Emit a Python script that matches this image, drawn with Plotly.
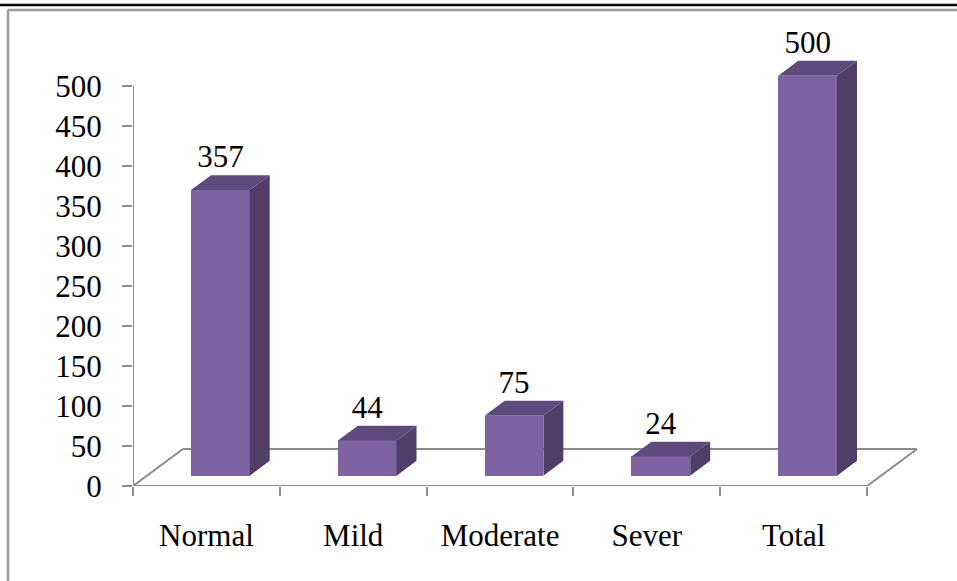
import plotly.graph_objects as go

categories = ["Normal", "Mild", "Moderate", "Sever", "Total"]
values = [357, 44, 75, 24, 500]
y_ticks = [0, 50, 100, 150, 200, 250, 300, 350, 400, 450, 500]

FRONT = "#7F62A1"
TOP = "#5E4A7D"
SIDE = "#503E69"
GRID = "#8C8C8C"
FONT = "Liberation Serif"
FS = 31

W, H = 957, 581
ML, MR, MT, MB = 133, 40, 30, 95
DX = 0.34      # floor depth in category units
DY = 46.25     # floor depth in value units
F0, F1 = 0.28, 0.68  # bar front/back depth fractions
BW = 0.40      # bar width
YMAX = (H - MT - MB) / 0.8

xs = list(range(len(categories)))

def px_x(p):
    return (p - ML) / (W - ML - MR)

def px_y(p):
    return (H - MB - p) / (H - MT - MB)

fig = go.Figure()

# front faces
fig.add_trace(go.Bar(
    x=[x + F0 * DX for x in xs], y=values, base=[F0 * DY] * len(values),
    width=BW, marker=dict(color=FRONT, line=dict(width=0)),
    hoverinfo="skip", showlegend=False))

# top and side faces
tx, ty, sx, sy = [], [], [], []
for x, v in zip(xs, values):
    l, r = x - BW / 2, x + BW / 2
    tx += [l + F0 * DX, r + F0 * DX, r + F1 * DX, l + F1 * DX, l + F0 * DX, None]
    ty += [v + F0 * DY, v + F0 * DY, v + F1 * DY, v + F1 * DY, v + F0 * DY, None]
    sx += [r + F0 * DX, r + F0 * DX, r + F1 * DX, r + F1 * DX, r + F0 * DX, None]
    sy += [F0 * DY, v + F0 * DY, v + F1 * DY, F1 * DY, F0 * DY, None]
fig.add_trace(go.Scatter(x=tx, y=ty, fill="toself", fillcolor=TOP, mode="lines",
                         line=dict(width=0, color=TOP), hoverinfo="skip", showlegend=False))
fig.add_trace(go.Scatter(x=sx, y=sy, fill="toself", fillcolor=SIDE, mode="lines",
                         line=dict(width=0, color=SIDE), hoverinfo="skip", showlegend=False))

# data labels
fig.add_trace(go.Scatter(
    x=[x + F0 * DX for x in xs], y=[v + F1 * DY for v in values],
    mode="text", text=[str(v) for v in values], textposition="top center",
    textfont=dict(family=FONT, size=FS, color="black"), cliponaxis=False,
    hoverinfo="skip", showlegend=False))

x0, x1 = -0.5, len(categories) - 0.5
shapes = [
    # floor
    dict(type="line", xref="x", yref="y", x0=x0, y0=0, x1=x1, y1=0),
    dict(type="line", xref="x", yref="y", x0=x1, y0=0, x1=x1 + DX, y1=DY),
    dict(type="line", xref="x", yref="y", x0=x0 + DX, y0=DY, x1=x1 + DX, y1=DY),
    dict(type="line", xref="x", yref="y", x0=x0, y0=0, x1=x0 + DX, y1=DY),
    # value axis line
    dict(type="line", xref="x", yref="y", x0=x0, y0=0, x1=x0, y1=y_ticks[-1]),
]
for s in shapes:
    s["line"] = dict(color=GRID, width=2)
    s["layer"] = "below"

# outer frame
shapes += [
    dict(type="line", xref="paper", yref="paper", x0=px_x(0), x1=px_x(W), y0=px_y(5), y1=px_y(5),
         line=dict(color="black", width=2.5)),
    dict(type="line", xref="paper", yref="paper", x0=px_x(8), x1=px_x(W), y0=px_y(10), y1=px_y(10),
         line=dict(color="#9A9A9A", width=2.5)),
    dict(type="line", xref="paper", yref="paper", x0=px_x(8), x1=px_x(8), y0=px_y(10), y1=px_y(H),
         line=dict(color="#9A9A9A", width=2.5)),
]

fig.update_layout(
    width=W, height=H,
    margin=dict(l=ML, r=MR, t=MT, b=MB, autoexpand=False),
    paper_bgcolor="white", plot_bgcolor="white",
    shapes=shapes, bargap=0, showlegend=False,
    font=dict(family=FONT, size=FS, color="black"),
)
fig.update_xaxes(
    range=[x0, x1 + DX], tickmode="array", tickvals=xs, ticktext=categories,
    ticks="", showgrid=False, zeroline=False, showline=False,
    ticklabelstandoff=28,
    tickfont=dict(family=FONT, size=FS, color="black"),
    minor=dict(tickmode="array", tickvals=[x - 0.5 for x in xs] + [x1],
               ticks="outside", ticklen=9, tickcolor=GRID, tickwidth=2, showgrid=False),
)
fig.update_yaxes(
    range=[0, YMAX], tickmode="array", tickvals=y_ticks,
    ticks="outside", ticklen=10, tickcolor=GRID, tickwidth=2,
    showgrid=False, zeroline=False, showline=False,
    ticklabelstandoff=14,
    tickfont=dict(family=FONT, size=FS, color="black"),
)

fig.write_html("out.html", config={"displayModeBar": False},
               post_script="document.body.style.margin='0px';")
